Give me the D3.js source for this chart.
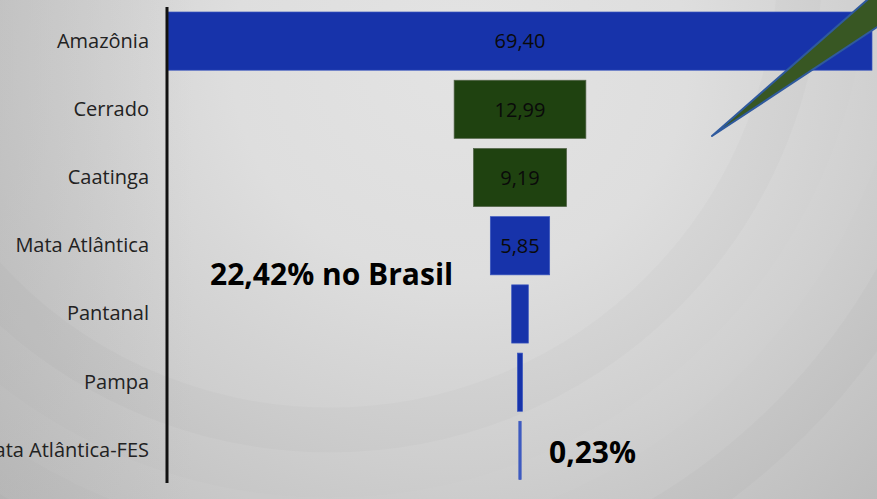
<!DOCTYPE html>
<html>
<head>
<meta charset="utf-8">
<script src="https://cdn.jsdelivr.net/npm/d3@7/dist/d3.min.js"></script>
<style>
  html, body { margin: 0; padding: 0; overflow: hidden; }
  svg { display: block; }
</style>
</head>
<body>
<svg id="chart" width="877" height="499"></svg>
<script>
// Área de vegetação nativa por bioma (%)
const biomes = ["Amazônia", "Cerrado", "Caatinga", "Mata Atlântica", "Pantanal", "Pampa", "Mata Atlântica-FES"];
const shares = [69.40, 12.99, 9.19, 5.85, 1.64, 0.50, 0.23];
const barColors = ["#1733aa", "#1f4210", "#1f4210", "#1733aa", "#1733aa", "#1733aa", "#3f5cc0"];
const labelled = [true, true, true, true, false, false, false];
const notes = ["22,42% no Brasil", "0,23%"];

const W = 877, H = 499;
const svg = d3.select("#chart");

// background: soft grey radial wash with faint concentric bands
const defs = svg.append("defs");
const rg = defs.append("radialGradient").attr("id", "bg")
  .attr("gradientUnits", "userSpaceOnUse")
  .attr("cx", 460).attr("cy", 60).attr("r", 760)
  .attr("gradientTransform", "translate(460,60) scale(1,0.95) translate(-460,-60)");
[[0, "#e3e3e3"], [0.3, "#dedede"], [0.55, "#cfcfcf"], [1, "#b0b0b0"]]
  .forEach(([o, c]) => rg.append("stop").attr("offset", o).attr("stop-color", c));
svg.append("rect").attr("width", W).attr("height", H).attr("fill", "url(#bg)");

const lg = defs.append("linearGradient").attr("id", "edge")
  .attr("x1", 0).attr("x2", 1).attr("y1", 0).attr("y2", 0);
[[0, "rgba(175,175,175,0.3)"], [0.22, "rgba(175,175,175,0)"]]
  .forEach(([o, c]) => lg.append("stop").attr("offset", o).attr("stop-color", c));
svg.append("rect").attr("width", W).attr("height", H).attr("fill", "url(#edge)");

const bands = svg.append("g").attr("fill", "none");
[470, 560, 650].forEach((r, i) => {
  bands.append("circle").attr("cx", 330).attr("cy", -40).attr("r", r)
    .attr("stroke", i % 2 ? "rgba(255,255,255,0.035)" : "rgba(0,0,0,0.015)")
    .attr("stroke-width", 45);
});

// scales
const cx = 520;
const x = d3.scaleLinear().domain([0, shares[0]]).range([0, 704]);
const y = d3.scaleBand().domain(biomes).range([12, 479.5]).paddingInner(0.147).paddingOuter(0);
const fmt = d3.formatLocale({ decimal: ",", thousands: ".", grouping: [3], currency: ["", ""] }).format(".2f");

// bars, centred on a common axis (funnel)
const rows = biomes.map((b, i) => ({ b, v: shares[i], c: barColors[i], lab: labelled[i] }));
svg.append("g").selectAll("rect").data(rows).join("rect")
  .attr("x", d => cx - x(d.v) / 2)
  .attr("y", d => y(d.b))
  .attr("width", d => Math.max(x(d.v), 1.6))
  .attr("height", y.bandwidth())
  .attr("fill", d => d.c)
  .attr("stroke", d => d.c === "#1f4210" ? "#56664c" : "#3a56bf")
  .attr("stroke-width", 0.7);

svg.append("g").selectAll("text").data(rows.filter(d => d.lab)).join("text")
  .attr("x", cx)
  .attr("y", d => y(d.b) + y.bandwidth() / 2)
  .attr("dy", "0.36em")
  .attr("text-anchor", "middle")
  .attr("font-family", "'Open Sans', sans-serif")
  .attr("font-size", 20)
  .attr("fill", "#0a0a0a")
  .text(d => fmt(d.v));

// category axis
const axis = svg.append("g").attr("transform", "translate(167,0)")
  .call(d3.axisLeft(y).tickSize(0).tickSizeOuter(0).tickPadding(18));
axis.select(".domain").remove();
axis.selectAll("text")
  .attr("font-family", "'Open Sans', sans-serif")
  .attr("font-size", 20)
  .attr("fill", "#222");
svg.append("line").attr("x1", 167).attr("x2", 167).attr("y1", 7).attr("y2", 483)
  .attr("stroke", "#111").attr("stroke-width", 3);

// callout pointer
const tip = [712, 136];
const pointer = [tip, [712 + 170, 136 - 0.877 * 170], [712 + 170, 136 - 0.66 * 170]];
svg.append("path")
  .attr("d", d3.line()(pointer) + "Z")
  .attr("fill", "#385723")
  .attr("stroke", "#2f5a9e")
  .attr("stroke-width", 2)
  .attr("stroke-linejoin", "round");

// annotations
svg.append("text").attr("x", 210).attr("y", 285)
  .attr("font-family", "'Open Sans', sans-serif").attr("font-weight", 700)
  .attr("font-size", 30).attr("fill", "#000").text(notes[0]);
svg.append("text").attr("x", 549).attr("y", 463)
  .attr("font-family", "'Open Sans', sans-serif").attr("font-weight", 700)
  .attr("font-size", 30).attr("fill", "#000").text(notes[1]);
</script>
</body>
</html>
